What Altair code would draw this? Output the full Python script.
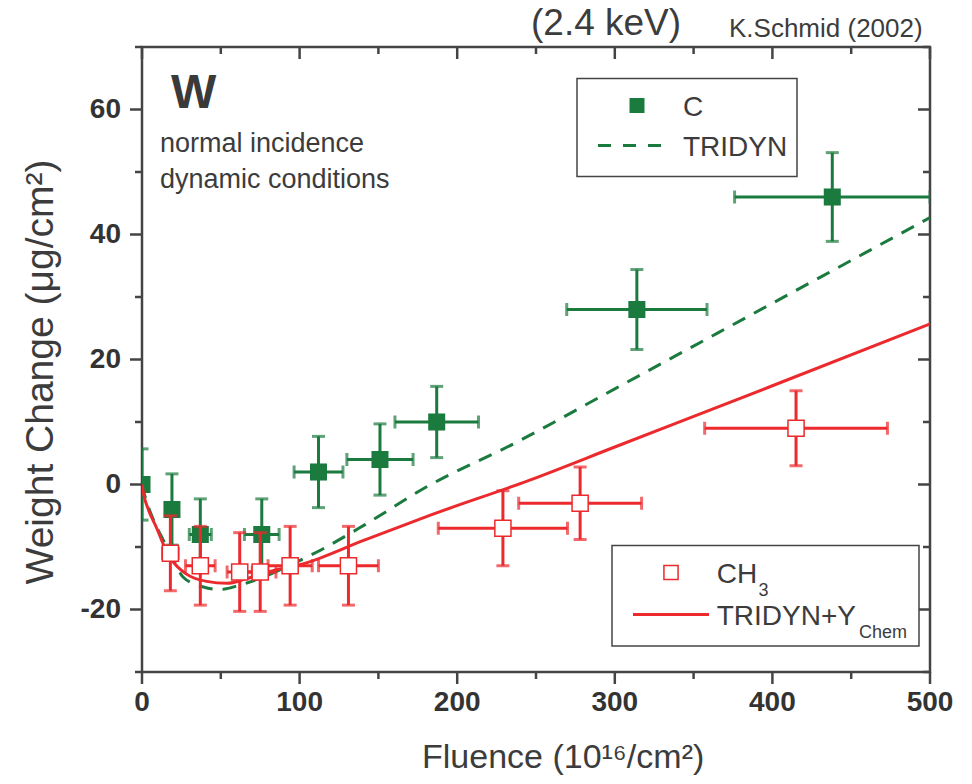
import altair as alt
import pandas as pd

# ---------------- data ----------------
# C (filled green squares)
c_x = [0, 19, 37, 76, 112, 151, 187, 314, 438]
c_y = [0, -4, -8, -8, 2, 4, 10, 28, 46]
c_xerr = [2, 3, 7, 11, 15.5, 21, 26.5, 44.5, 62]
c_yerr = [5.7, 5.7, 5.7, 5.7, 5.7, 5.7, 5.7, 6.4, 7.1]

# CH3 (open red squares)
ch3_x = [18, 37, 62, 75, 94, 131, 229, 278, 415]
ch3_y = [-11, -13, -14, -14, -13, -13, -7, -3, 9]
ch3_xerr = [5, 9.4, 8, 10, 14, 19, 41, 39, 58]
ch3_yerr = [6, 6.3, 6.3, 6.3, 6.3, 6.3, 6, 5.8, 6]

# TRIDYN (green dashed)
tri_x = [0, 2, 7, 13.5, 20, 26, 39, 49.5, 62, 77, 94, 111, 141, 179, 238, 300, 400, 500]
tri_y = [0, -2, -5.5, -8.9, -12, -14.8, -16.4, -16.8, -16.1, -14.8, -12.9, -10.8, -6.5, -0.6, 6.8, 15.3, 29, 42.7]

# TRIDYN + Y_Chem (red solid)
chem_x = [0, 1, 4, 9, 14, 19, 28, 41, 54, 66, 83, 102, 141, 183, 246, 300, 400, 500]
chem_y = [0, -1.5, -4, -6.8, -9.8, -12.1, -14.3, -15.5, -15.8, -15.1, -13.8, -12.7, -8.9, -4.9, 0.7, 6.0, 15.8, 25.7]

# axis ticks
x_major = [0, 100, 200, 300, 400, 500]
x_minor = [50, 150, 250, 350, 450]
y_major = [-20, 0, 20, 40, 60]
y_minor = [-30, -10, 10, 30, 50, 70]

GREEN = "#1b7a3e"
RED = "#ec2a2d"
INK = "#3c3c3c"
FRAME = "#444444"
FONT = "Liberation Sans"

W, H = 788, 625


def pts(xs, ys, xe, ye):
    return pd.DataFrame({"x": xs, "y": ys,
                         "xlo": [a - b for a, b in zip(xs, xe)],
                         "xhi": [a + b for a, b in zip(xs, xe)],
                         "ylo": [a - b for a, b in zip(ys, ye)],
                         "yhi": [a + b for a, b in zip(ys, ye)]})


c_df = pts(c_x, c_y, c_xerr, c_yerr)
ch3_df = pts(ch3_x, ch3_y, ch3_xerr, ch3_yerr)
tri_df = pd.DataFrame({"x": tri_x, "y": tri_y})
chem_df = pd.DataFrame({"x": chem_x, "y": chem_y})

xscale = alt.Scale(domain=[0, 500], nice=False, zero=False)
yscale = alt.Scale(domain=[-30, 70], nice=False, zero=False)


def xq(f):
    return alt.X(f"{f}:Q", scale=xscale, axis=None)


def yq(f):
    return alt.Y(f"{f}:Q", scale=yscale, axis=None)


tri_line = alt.Chart(tri_df).mark_line(
    color=GREEN, strokeWidth=3, strokeDash=[14, 10], interpolate="monotone", clip=True
).encode(x=xq("x"), y=yq("y"))

chem_line = alt.Chart(chem_df).mark_line(
    color=RED, strokeWidth=3, interpolate="monotone", clip=True
).encode(x=xq("x"), y=yq("y"))


def errbars(df, color):
    ch = alt.Chart(df)
    h = ch.mark_rule(color=color, strokeWidth=3, clip=True).encode(
        x=xq("xlo"), x2="xhi", y=yq("y"))
    v = ch.mark_rule(color=color, strokeWidth=3, clip=True).encode(
        y=yq("ylo"), y2="yhi", x=xq("x"))
    cap_xlo = ch.mark_tick(color=color, orient="vertical", size=13, thickness=3, clip=True).encode(
        x=xq("xlo"), y=yq("y"))
    cap_xhi = ch.mark_tick(color=color, orient="vertical", size=13, thickness=3, clip=True).encode(
        x=xq("xhi"), y=yq("y"))
    cap_ylo = ch.mark_tick(color=color, orient="horizontal", size=13, thickness=3, clip=True).encode(
        x=xq("x"), y=yq("ylo"))
    cap_yhi = ch.mark_tick(color=color, orient="horizontal", size=13, thickness=3, clip=True).encode(
        x=xq("x"), y=yq("yhi"))
    return [h, v, cap_xlo, cap_xhi, cap_ylo, cap_yhi]


c_pts = alt.Chart(c_df).mark_point(
    shape="square", filled=True, color=GREEN, size=290, opacity=1, clip=True
).encode(x=xq("x"), y=yq("y"))

ch3_pts = alt.Chart(ch3_df).mark_point(
    shape="square", filled=True, fill="white", stroke=RED, strokeWidth=1.5,
    size=260, opacity=1, clip=True
).encode(x=xq("x"), y=yq("y"))

# ---------------- axes drawn from the tick arrays ----------------
xmaj = pd.DataFrame({"v": x_major})
xmin = pd.DataFrame({"v": x_minor})
ymaj = pd.DataFrame({"v": y_major})
ymin = pd.DataFrame({"v": y_minor})


def xtick(df, y1, y2):
    return alt.Chart(df).mark_rule(color=FRAME, strokeWidth=2.5).encode(
        x=alt.X("v:Q", scale=xscale, axis=None), y=alt.value(y1), y2=alt.value(y2))


def ytick(df, x1, x2):
    return alt.Chart(df).mark_rule(color=FRAME, strokeWidth=2.5).encode(
        y=alt.Y("v:Q", scale=yscale, axis=None), x=alt.value(x1), x2=alt.value(x2))


ticks = [
    xtick(xmaj, H, H + 12), xtick(xmin, H, H + 7),      # bottom, outward
    ytick(ymaj, 0, -12), ytick(ymin, 0, -7),            # left, outward
    xtick(xmaj, 0, 12), xtick(xmin, 0, 7),              # top, inward
    ytick(ymaj, W, W - 12), ytick(ymin, W, W - 7),      # right, inward
]

xlabels = alt.Chart(xmaj).transform_calculate(lab="'' + datum.v").mark_text(
    font=FONT, fontSize=28, fontWeight="bold", color="#333333",
    align="center", baseline="top"
).encode(x=alt.X("v:Q", scale=xscale, axis=None), y=alt.value(H + 17), text="lab:N")

ylabels = alt.Chart(ymaj).transform_calculate(lab="'' + datum.v").mark_text(
    font=FONT, fontSize=28, fontWeight="bold", color="#333333",
    align="right", baseline="middle"
).encode(y=alt.Y("v:Q", scale=yscale, axis=None), x=alt.value(-21), text="lab:N")

one = pd.DataFrame({"a": [0]})


def txt(s, x, y, size, weight="normal", color=INK, align="left", angle=0):
    return alt.Chart(one).mark_text(
        text=s, font=FONT, fontSize=size, fontWeight=weight, color=color,
        align=align, baseline="alphabetic", angle=angle
    ).encode(x=alt.value(x), y=alt.value(y))


xtitle = txt("Fluence (10¹⁶/cm²)", 280, H + 96, 34)
ytitle = txt("Weight Change (μg/cm²)", -89, 325, 39, align="center", angle=270)


def box(x1, x2, y1, y2):
    return alt.Chart(one).mark_rect(fill="white", stroke=FRAME, strokeWidth=1.5).encode(
        x=alt.value(x1), x2=alt.value(x2), y=alt.value(y1), y2=alt.value(y2))


# legend 1 (C / TRIDYN)
leg1 = [
    box(435, 655, 31.5, 129.5),
    alt.Chart(one).mark_point(shape="square", filled=True, color=GREEN, size=225, opacity=1).encode(
        x=alt.value(495), y=alt.value(58.5)),
    txt("C", 541, 68.5, 28),
    alt.Chart(one).mark_rule(color=GREEN, strokeWidth=3, strokeDash=[13, 12]).encode(
        x=alt.value(456), x2=alt.value(530), y=alt.value(98.5)),
    txt("TRIDYN", 541, 108.5, 28),
]

# legend 2 (CH3 / TRIDYN+Y_Chem)
leg2 = [
    box(470, 777, 498.5, 599),
    alt.Chart(one).mark_point(shape="square", filled=True, fill="white", stroke=RED,
                              strokeWidth=1.5, size=200, opacity=1).encode(
        x=alt.value(529), y=alt.value(525.5)),
    txt("CH", 574.7, 535.5, 28),
    txt("3", 616.5, 549, 18),
    alt.Chart(one).mark_rule(color=RED, strokeWidth=3).encode(
        x=alt.value(491), x2=alt.value(567), y=alt.value(567.5)),
    txt("TRIDYN+Y", 574.7, 577.5, 28),
    txt("Chem", 717, 590.5, 18),
]

annot = [
    txt("W", 29, 60.5, 48, weight="bold", color="#3a3a3a"),
    txt("normal incidence", 18, 104.5, 27),
    txt("dynamic conditions", 18, 140.5, 27),
    txt("(2.4 keV)", 389, -12.5, 37),
    txt("K.Schmid (2002)", 587, -10.5, 26),
]

layers = [tri_line] + errbars(c_df, GREEN) + [c_pts, chem_line] + errbars(ch3_df, RED) + [
    ch3_pts] + ticks + [xlabels, ylabels, xtitle, ytitle] + leg1 + leg2 + annot

chart = alt.layer(*layers).properties(
    width=W, height=H,
    autosize=alt.AutoSizeParams(type="none"),
    padding={"left": 142, "top": 47, "right": 42, "bottom": 112},
    background="white",
).configure_view(stroke=FRAME, strokeWidth=2.5)

chart.save("out.html", embed_options={"renderer": "svg", "actions": False})
